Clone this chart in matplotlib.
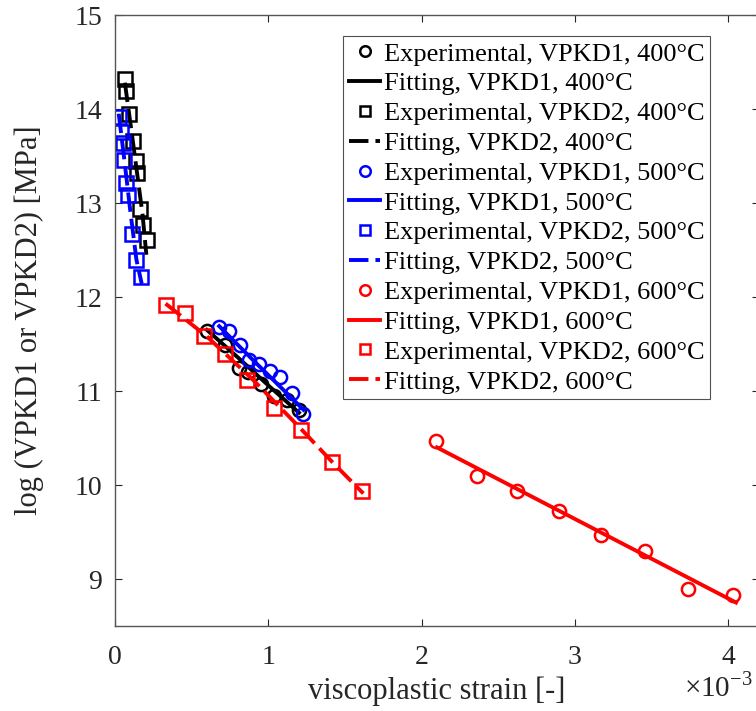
import matplotlib
matplotlib.use('Agg')
import matplotlib.pyplot as plt

plt.rcParams['font.family'] = ['Liberation Serif', 'DejaVu Serif']
plt.rcParams['mathtext.fontset'] = 'custom'
plt.rcParams['mathtext.rm'] = 'Liberation Serif'

# strain in units of 1e-3, log stress
exp_400_1_x = [0.60, 0.72, 0.81, 0.87, 0.95, 1.04, 1.12, 1.20]
exp_400_1_y = [11.64, 11.49, 11.24, 11.20, 11.08, 10.95, 10.90, 10.80]
fit_400_1_x = [0.60, 0.80, 1.00, 1.20]
fit_400_1_y = [11.65, 11.36, 11.06, 10.77]

exp_400_2_x = [0.065, 0.072, 0.093, 0.118, 0.137, 0.145, 0.163, 0.185, 0.207]
exp_400_2_y = [14.32, 14.19, 13.95, 13.66, 13.45, 13.32, 12.94, 12.77, 12.61]
fit_400_2_x = [0.065, 0.09, 0.12, 0.15, 0.18, 0.205]
fit_400_2_y = [14.28, 13.98, 13.62, 13.25, 12.88, 12.45]

exp_500_1_x = [0.680, 0.746, 0.815, 0.876, 0.941, 1.011, 1.076, 1.152, 1.228]
exp_500_1_y = [11.68, 11.64, 11.49, 11.33, 11.29, 11.21, 11.15, 10.98, 10.76]
fit_500_1_x = [0.68, 0.90, 1.10, 1.23]
fit_500_1_y = [11.69, 11.33, 11.01, 10.80]

exp_500_2_x = [0.026, 0.040, 0.050, 0.060, 0.070, 0.085, 0.109, 0.135, 0.170]
exp_500_2_y = [13.92, 13.76, 13.64, 13.46, 13.21, 13.08, 12.67, 12.39, 12.21]
fit_500_2_x = [0.025, 0.06, 0.10, 0.14, 0.175]
fit_500_2_y = [13.95, 13.48, 12.92, 12.40, 12.14]

exp_600_1_x = [2.094, 2.363, 2.620, 2.898, 3.170, 3.457, 3.740, 4.033]
exp_600_1_y = [10.47, 10.10, 9.94, 9.72, 9.47, 9.30, 8.89, 8.83]
fit_600_1_x = [2.10, 4.05]
fit_600_1_y = [10.40, 8.75]

exp_600_2_x = [0.333, 0.457, 0.581, 0.718, 0.859, 1.037, 1.211, 1.413, 1.613]
exp_600_2_y = [11.92, 11.83, 11.58, 11.39, 11.12, 10.82, 10.59, 10.25, 9.94]
fit_600_2_x = [0.33, 0.60, 0.90, 1.20, 1.42, 1.62]
fit_600_2_y = [11.93, 11.58, 11.12, 10.62, 10.24, 9.91]

fig = plt.figure(figsize=(7.56, 7.11), dpi=100)
ax = fig.add_axes([0.152, 0.1195, 0.852, 0.8594])

ms = 9.5
mew = 1.8
lw = 2.8
dash = (0, (5, 1.8))

series = [
    ('k', 'VPKD1', '400', exp_400_1_x, exp_400_1_y, fit_400_1_x, fit_400_1_y, 'o', '-'),
    ('k', 'VPKD2', '400', exp_400_2_x, exp_400_2_y, fit_400_2_x, fit_400_2_y, 's', dash),
    ('b', 'VPKD1', '500', exp_500_1_x, exp_500_1_y, fit_500_1_x, fit_500_1_y, 'o', '-'),
    ('b', 'VPKD2', '500', exp_500_2_x, exp_500_2_y, fit_500_2_x, fit_500_2_y, 's', dash),
    ('r', 'VPKD1', '600', exp_600_1_x, exp_600_1_y, fit_600_1_x, fit_600_1_y, 'o', '-'),
    ('r', 'VPKD2', '600', exp_600_2_x, exp_600_2_y, fit_600_2_x, fit_600_2_y, 's', dash),
]
for c, name, T, ex, ey, fx, fy, mk, ls in series:
    ax.plot(ex, ey, linestyle='none', marker=mk, ms=ms, mfc='none', mec=c, mew=mew,
            label='Experimental, %s, %s°C' % (name, T))
    ax.plot(fx, fy, color=c, lw=lw, linestyle=ls,
            label='Fitting, %s, %s°C' % (name, T))

ax.set_xlim(0, 4.2)
ax.set_ylim(8.5, 15)
ax.set_xticks([0, 1, 2, 3, 4])
ax.set_yticks([9, 10, 11, 12, 13, 14, 15])
ax.tick_params(direction='in', top=True, right=True, labelsize=20,
               colors='#262626', length=5, width=0.8)
ax.tick_params(axis='x', pad=14)
ax.tick_params(axis='y', pad=9)
for s in ax.spines.values():
    s.set_color('#555555')
    s.set_linewidth(1.0)

ax.set_xlabel('viscoplastic strain [-]', fontsize=22, color='#262626', labelpad=4)
ax.set_ylabel('log (VPKD1 or VPKD2) [MPa]', fontsize=22, color='#262626', labelpad=22)
fig.text(0.905, 0.012, '×10$^{-3}$', fontsize=21, color='#262626', ha='left', va='bottom')

leg = ax.legend(loc='upper left', bbox_to_anchor=(0.354, 0.965), fontsize=19,
                frameon=True, fancybox=False, edgecolor='#262626',
                handlelength=1.2, handletextpad=0.12, labelspacing=0.24,
                borderpad=0.22, borderaxespad=0.0, markerscale=0.8)
leg.get_frame().set_linewidth(0.8)

fig.savefig('out.png', dpi=100)
